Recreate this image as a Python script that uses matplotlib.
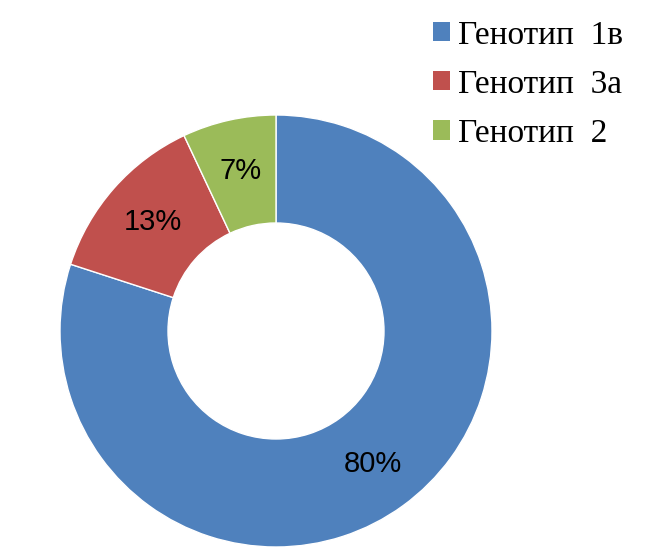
import matplotlib.pyplot as plt
from matplotlib.patches import Patch

genotypes = ['Генотип  1в', 'Генотип  3а', 'Генотип  2']
shares = [80, 13, 7]
colors = ['#4F81BD', '#C0504D', '#9BBB59']

fig = plt.figure(figsize=(6.53, 5.48), dpi=100)
ax = fig.add_axes([60 / 653, 1 / 548, 432 / 653, 432 / 548])

wedges, texts, autotexts = ax.pie(
    shares, colors=colors, startangle=90, counterclock=False,
    radius=1.0, autopct='%d%%', pctdistance=0.76,
    wedgeprops=dict(width=0.5, edgecolor='white', linewidth=1),
    textprops=dict(fontsize=21, family='Liberation Sans', color='black'),
)
ax.set_xlim(-1, 1)
ax.set_ylim(-1, 1)
ax.set_aspect('equal')

handles = [Patch(facecolor=c, edgecolor='none') for c in colors]
fig.legend(handles, genotypes, loc='upper left', bbox_to_anchor=(433 / 653, 1 - 20 / 548),
           frameon=False, prop={'family': 'Liberation Serif', 'size': 24},
           handlelength=0.51, handleheight=0.51, handletextpad=0.25,
           labelspacing=0.56, borderpad=0, borderaxespad=0)

fig.savefig('out.png', dpi=100)
